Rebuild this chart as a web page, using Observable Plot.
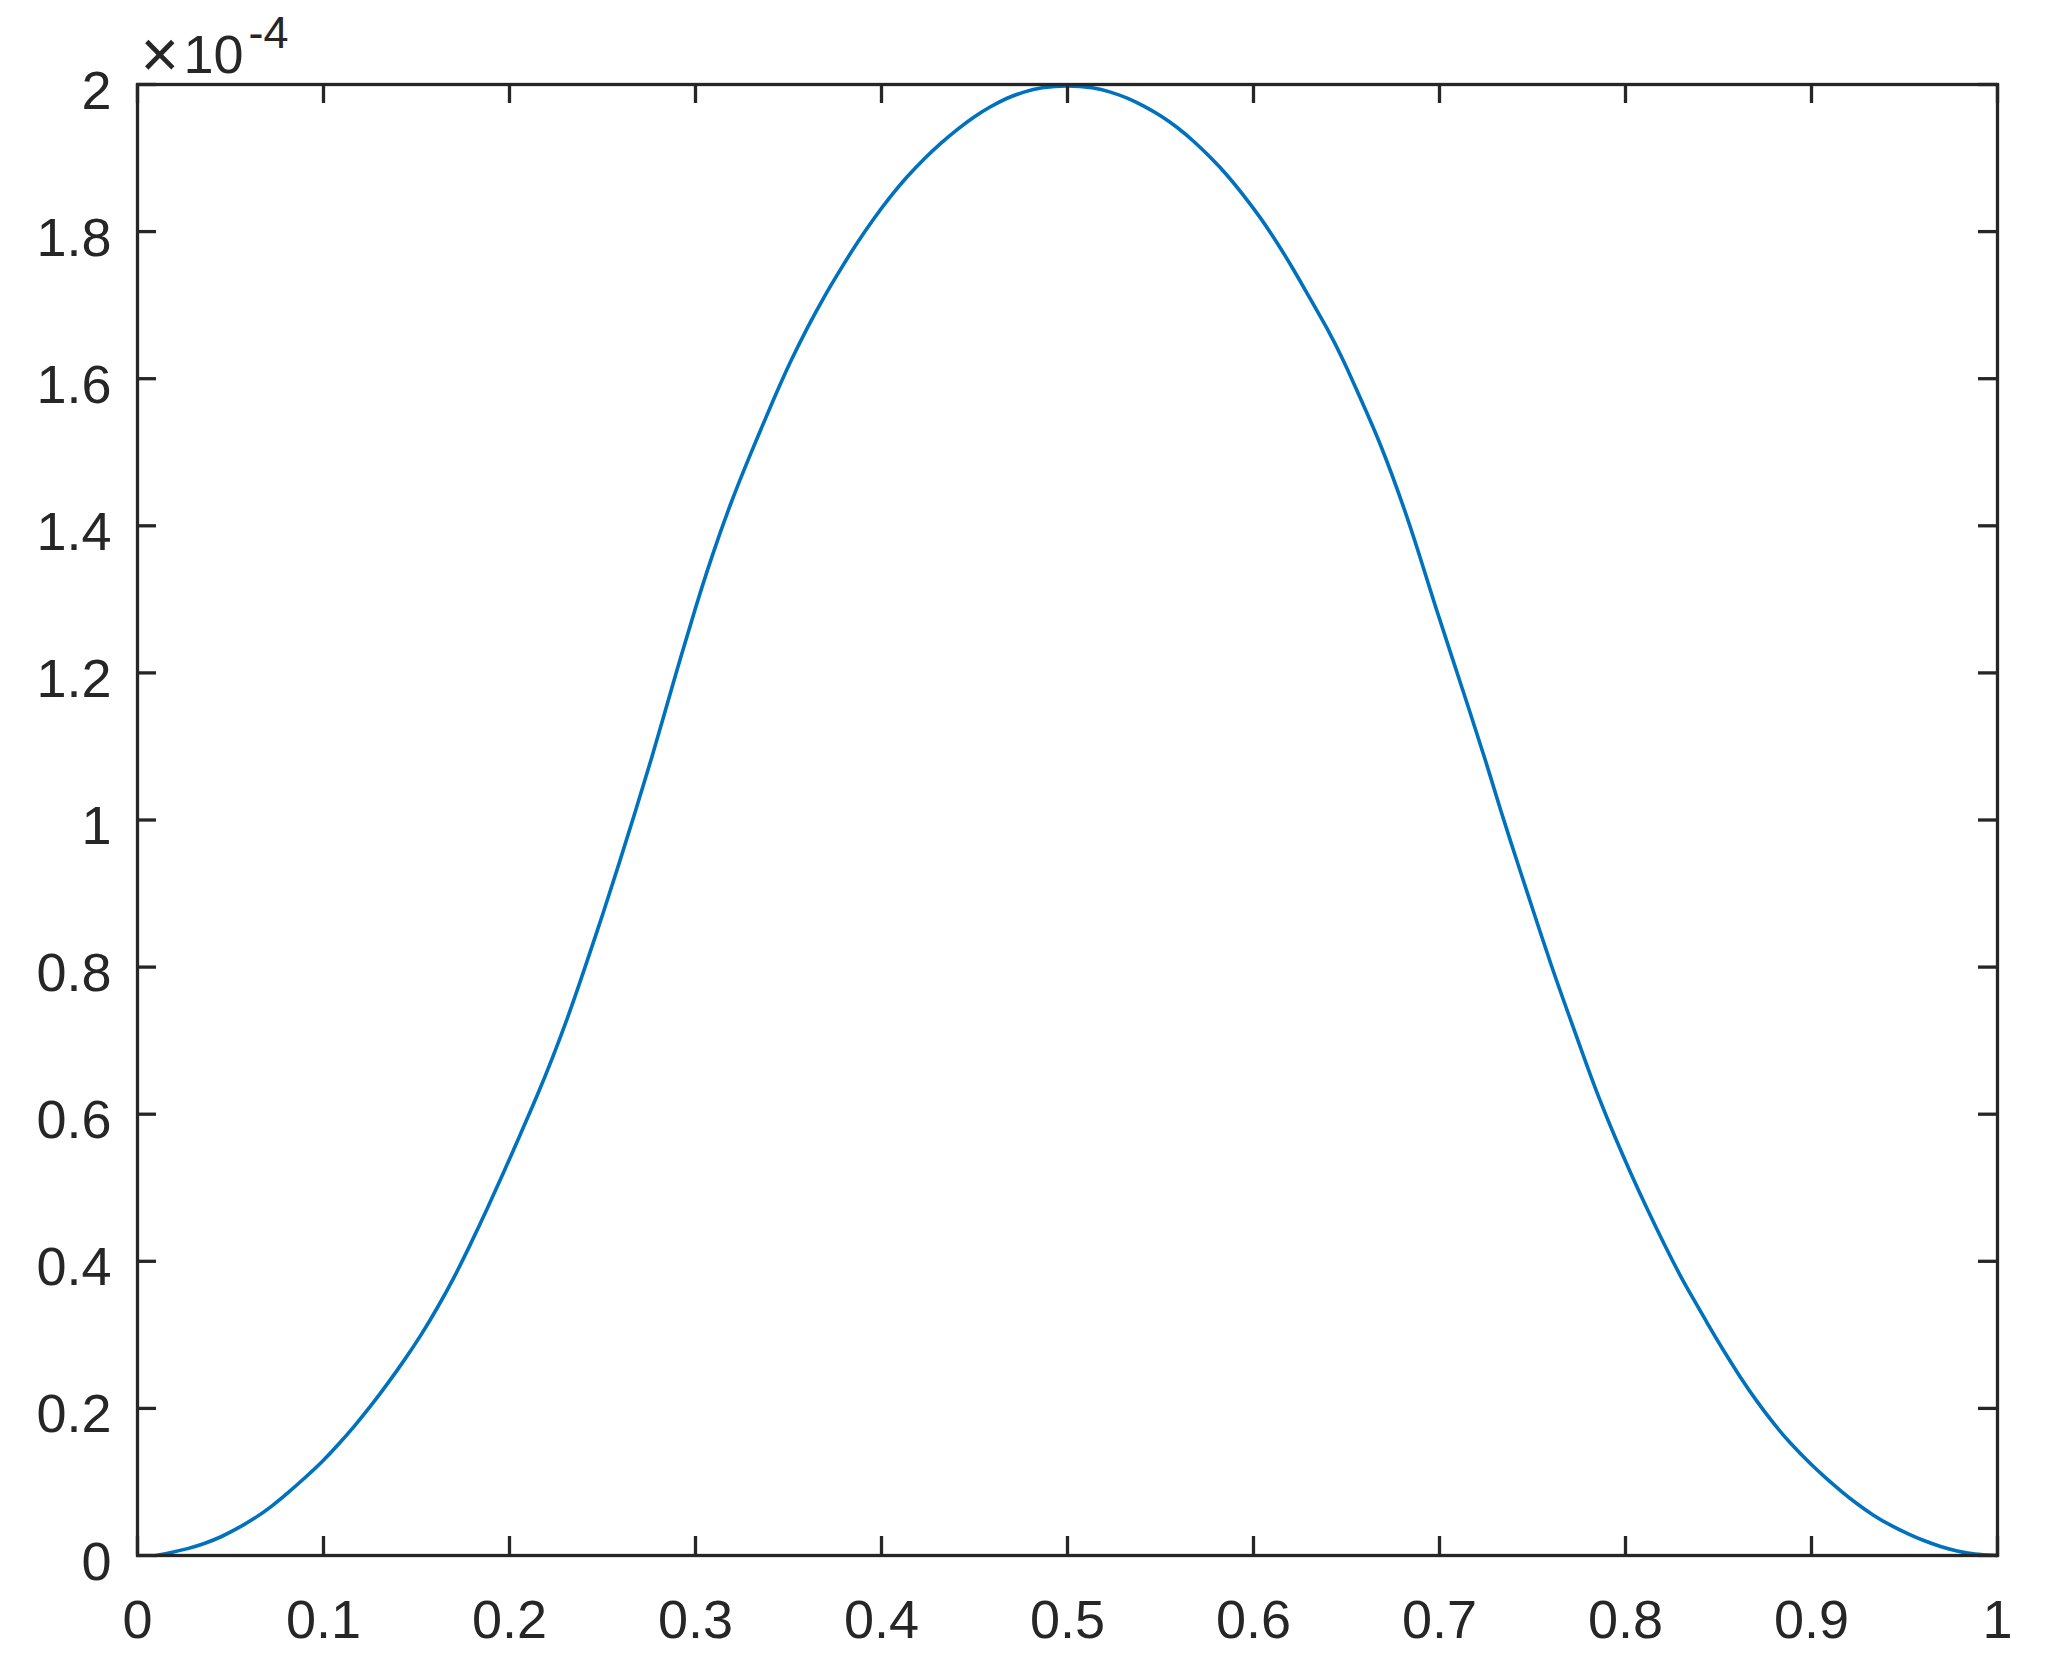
<!DOCTYPE html>
<html>
<head>
<meta charset="utf-8">
<script src="https://cdn.jsdelivr.net/npm/d3@7"></script>
<script src="https://cdn.jsdelivr.net/npm/@observablehq/plot@0.6"></script>
<style>
  html, body { margin: 0; padding: 0; background: #ffffff; }
  #chart svg { display: block; }
</style>
</head>
<body>
<div id="chart"></div>
<script>
// x values of the curve
const xs = [
  0.0099, 0.018, 0.0269, 0.0359, 0.0449, 0.0539, 0.0628, 0.0718, 0.0808, 0.0898,
  0.1, 0.1077, 0.1167, 0.1257, 0.1346, 0.1436, 0.1526, 0.1611, 0.1701, 0.179,
  0.188, 0.1969, 0.2059, 0.2149, 0.2229, 0.2319, 0.24, 0.2502, 0.2591, 0.2677,
  0.2762, 0.2839, 0.2919, 0.3, 0.3084, 0.319, 0.3296, 0.3421, 0.3511, 0.36, 0.369,
  0.378, 0.3869, 0.3959, 0.4048, 0.4138, 0.4228, 0.4317, 0.4407, 0.4496, 0.4586,
  0.4676, 0.4765, 0.4855, 0.5, 0.5141, 0.5231, 0.5321, 0.541, 0.55, 0.559,
  0.5679, 0.5769, 0.5859, 0.5948, 0.6038, 0.6127, 0.6217, 0.6306, 0.6396, 0.6486,
  0.6575, 0.6683, 0.6808, 0.6894, 0.6978, 0.7068, 0.7158, 0.7247, 0.7328, 0.7418,
  0.7507, 0.7606, 0.7695, 0.7794, 0.7857, 0.7941, 0.8031, 0.812, 0.821, 0.8299,
  0.8349, 0.8439, 0.8528, 0.8618, 0.8707, 0.8797, 0.8887, 0.9004, 0.9066, 0.9156,
  0.9245, 0.9335, 0.9425, 0.9514, 0.9604, 0.9694, 0.9783, 0.9873, 1.0
];
// y values of the curve, in units of 1e-4
const ys = [
  0, 0.004, 0.009, 0.016, 0.025, 0.037, 0.05, 0.066, 0.085, 0.105,
  0.129, 0.15, 0.176, 0.204, 0.234, 0.266, 0.3, 0.336, 0.377, 0.423,
  0.471, 0.521, 0.573, 0.625, 0.675, 0.735, 0.795, 0.872, 0.942, 1.012,
  1.082, 1.15, 1.22, 1.289, 1.356, 1.432, 1.498, 1.573, 1.624, 1.669, 1.711,
  1.749, 1.785, 1.818, 1.848, 1.875, 1.899, 1.92, 1.939, 1.956, 1.97,
  1.982, 1.99, 1.996, 1.999, 1.996, 1.99, 1.982, 1.971, 1.958, 1.942,
  1.923, 1.901, 1.877, 1.849, 1.819, 1.785, 1.748, 1.708, 1.669, 1.624,
  1.573, 1.512, 1.426, 1.359, 1.29, 1.221, 1.151, 1.082, 1.013, 0.943,
  0.874, 0.798, 0.735, 0.665, 0.622, 0.57, 0.518, 0.469, 0.422, 0.378,
  0.356, 0.316, 0.278, 0.242, 0.209, 0.179, 0.152, 0.122, 0.108, 0.088,
  0.07, 0.054, 0.041, 0.03, 0.02, 0.012, 0.006, 0.0015, 0
];
const xTicks = [0, 0.1, 0.2, 0.3, 0.4, 0.5, 0.6, 0.7, 0.8, 0.9, 1];
const xTickLabels = ["0", "0.1", "0.2", "0.3", "0.4", "0.5", "0.6", "0.7", "0.8", "0.9", "1"];
const yTicks = [0, 0.2, 0.4, 0.6, 0.8, 1, 1.2, 1.4, 1.6, 1.8, 2];
const yTickLabels = ["0", "0.2", "0.4", "0.6", "0.8", "1", "1.2", "1.4", "1.6", "1.8", "2"];
const exponentSign = "×";
const exponentBase = "10";
const exponentPower = "-4";

const W = 2061, H = 1669;
const mL = 137, mR = 64, mT = 84, mB = 114;
const plotW = W - mL - mR, plotH = H - mT - mB;
const tickLen = 19;
const ink = "#262626";
const font = "'Liberation Sans', Arial, Helvetica, sans-serif";

const curve = xs.map((x, i) => ({x, y: ys[i]}));
const xt = xTicks.map((v, i) => ({v, label: xTickLabels[i]}));
const yt = yTicks.map((v, i) => ({v, label: yTickLabels[i]}));

const chart = Plot.plot({
  width: W,
  height: H,
  marginLeft: mL,
  marginRight: mR,
  marginTop: mT,
  marginBottom: mB,
  style: {background: "#ffffff", fontFamily: font, color: ink},
  x: {domain: [0, 1], axis: null},
  y: {domain: [0, 2], axis: null},
  marks: [
    Plot.line(curve, {x: "x", y: "y", stroke: "#0072BD", strokeWidth: 3.6, curve: "basis"}),
    // inward ticks: bottom, top
    Plot.tickX(xt, {x: "v", stroke: ink, strokeWidth: 3.3, insetTop: plotH - tickLen}),
    Plot.tickX(xt, {x: "v", stroke: ink, strokeWidth: 3.3, insetBottom: plotH - tickLen}),
    // inward ticks: left, right
    Plot.tickY(yt, {y: "v", stroke: ink, strokeWidth: 3.3, insetRight: plotW - tickLen}),
    Plot.tickY(yt, {y: "v", stroke: ink, strokeWidth: 3.3, insetLeft: plotW - tickLen}),
    Plot.frame({stroke: ink, strokeWidth: 3.3}),
    // tick labels
    Plot.text(xt, {x: "v", text: "label", frameAnchor: "bottom", dy: 82, lineAnchor: "bottom",
      textAnchor: "middle", fontSize: 54, fill: ink}),
    Plot.text(yt, {y: "v", text: "label", frameAnchor: "left", dx: -26, dy: 24, lineAnchor: "bottom",
      textAnchor: "end", fontSize: 54, fill: ink}),
    // exponent label ×10^-4
    Plot.text([exponentSign], {frameAnchor: "top-left", dx: 3, dy: -8, lineAnchor: "bottom",
      textAnchor: "start", fontSize: 66, fill: ink}),
    Plot.text([exponentBase], {frameAnchor: "top-left", dx: 46, dy: -12, lineAnchor: "bottom",
      textAnchor: "start", fontSize: 54, fill: ink}),
    Plot.text([exponentPower], {frameAnchor: "top-left", dx: 111, dy: -37, lineAnchor: "bottom",
      textAnchor: "start", fontSize: 45, fill: ink})
  ]
});
document.getElementById("chart").appendChild(chart);
</script>
</body>
</html>
